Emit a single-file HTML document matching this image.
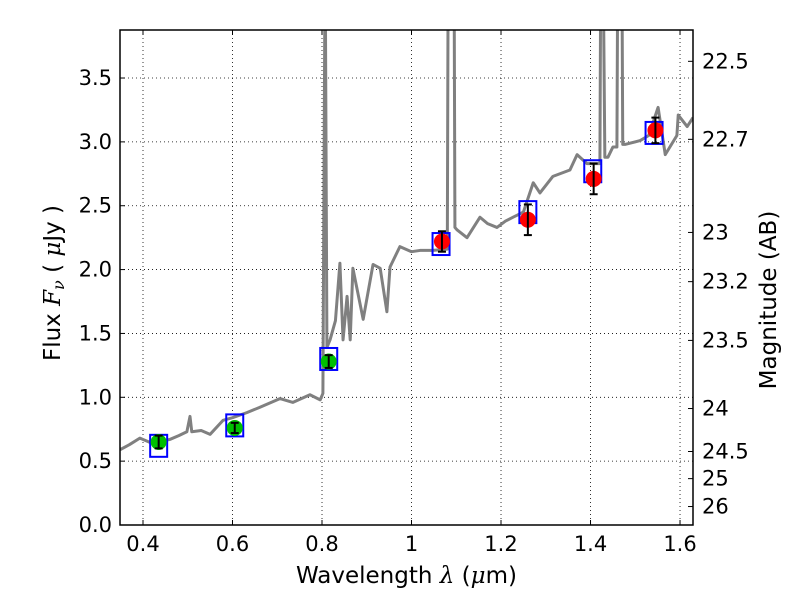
<!DOCTYPE html>
<html><head><meta charset="utf-8">
<style>
body{margin:0;background:#fff;}
svg{display:block;font-family:"DejaVu Sans","Liberation Sans",sans-serif;}
</style></head>
<body>
<svg id="c" width="800" height="600"></svg>
<script>
const specLam=[0.349,0.370,0.393,0.420,0.460,0.480,0.498,0.505,0.509,0.530,0.550,0.579,0.600,0.632,0.660,0.706,0.735,0.773,0.796,0.802,0.807,0.811,0.818,0.830,0.840,0.847,0.856,0.863,0.869,0.892,0.914,0.930,0.945,0.952,0.974,1.000,1.019,1.048,1.080,1.082,1.095,1.097,1.102,1.124,1.153,1.170,1.191,1.210,1.227,1.250,1.272,1.287,1.316,1.354,1.370,1.392,1.421,1.423,1.428,1.432,1.439,1.450,1.459,1.461,1.470,1.472,1.477,1.511,1.530,1.551,1.567,1.593,1.596,1.616,1.629];
const specFlux=[0.59,0.63,0.68,0.64,0.67,0.70,0.73,0.85,0.73,0.74,0.71,0.82,0.84,0.88,0.92,0.99,0.96,1.02,0.98,1.03,4.5,1.39,1.45,1.60,2.05,1.45,1.79,1.45,2.01,1.61,2.04,2.01,1.67,2.02,2.18,2.14,2.15,2.15,2.16,4.5,4.5,2.33,2.31,2.25,2.41,2.36,2.33,2.38,2.41,2.45,2.68,2.60,2.73,2.78,2.90,2.83,2.83,4.5,4.5,2.88,2.88,2.96,2.96,4.5,4.5,2.98,2.98,3.01,3.05,3.27,2.90,3.05,3.21,3.12,3.19];
const optLam=[0.435,0.605,0.815];
const optFlux=[0.65,0.76,1.28];
const optErr=[0.05,0.04,0.05];
const nirLam=[1.068,1.26,1.407,1.545];
const nirFlux=[2.22,2.39,2.71,3.09];
const nirErr=[0.08,0.12,0.12,0.10];
const modLam=[0.435,0.605,0.815,1.066,1.26,1.405,1.542];
const modFlux=[0.62,0.78,1.30,2.20,2.45,2.77,3.07];
const xTicks=[0.4,0.6,0.8,1.0,1.2,1.4,1.6];
const xTickLabels=["0.4","0.6","0.8","1","1.2","1.4","1.6"];
const yTicks=[0,0.5,1,1.5,2,2.5,3,3.5];
const yTickLabels=["0.0","0.5","1.0","1.5","2.0","2.5","3.0","3.5"];
const magTicks=[22.5,22.7,23,23.2,23.5,24,24.5,25,26];
const magLabels=["22.5","22.7","23","23.2","23.5","24","24.5","25","26"];

const L=120,R=693,T=30,B=525,x0=0.3486,x1=1.629,y0=0,y1=3.876;
const X=v=>L+(v-x0)/(x1-x0)*(R-L);
const Y=v=>B-(v-y0)/(y1-y0)*(B-T);
const NS="http://www.w3.org/2000/svg";
const svg=document.getElementById('c');
function mk(t,a,p){const e=document.createElementNS(NS,t);for(const k in a)e.setAttribute(k,a[k]);(p||svg).appendChild(e);return e;}
const defs=mk('defs',{});const cp=mk('clipPath',{id:'pc'},defs);mk('rect',{x:L,y:T,width:R-L,height:B-T},cp);
const FS=21;
xTicks.forEach((v,i)=>{const x=X(v);
 const g=mk('line',{x1:x,x2:x,y1:T,y2:B,stroke:'#000','stroke-width':0.8,'stroke-dasharray':'1,3'});
 
 mk('line',{x1:x,x2:x,y1:B,y2:B-5,stroke:'#000'});mk('line',{x1:x,x2:x,y1:T,y2:T+5,stroke:'#000'});
 const t=mk('text',{x:x,y:B+26,'text-anchor':'middle','font-size':FS});t.textContent=xTickLabels[i];
 });
yTicks.forEach((v,i)=>{const y=Y(v);
 const g=mk('line',{x1:L,x2:R,y1:y,y2:y,stroke:'#000','stroke-width':0.8,'stroke-dasharray':'1,3'});
 
 mk('line',{x1:L,x2:L+5,y1:y,y2:y,stroke:'#000'});
 const t=mk('text',{x:L-8,y:y+7,'text-anchor':'end','font-size':FS});t.textContent=yTickLabels[i];
 });
magTicks.forEach((m,i)=>{const y=Y(Math.pow(10,(23.9-m)/2.5));
 mk('line',{x1:R,x2:R-5,y1:y,y2:y,stroke:'#000'});
 const t=mk('text',{x:R+9,y:y+7,'font-size':FS});t.textContent=magLabels[i];
 });

const pg=mk('g',{'clip-path':'url(#pc)'});
const sp=mk('polyline',{points:specLam.map((l,i)=>X(l)+','+Y(specFlux[i])).join(' '),fill:'none',stroke:'#808080','stroke-width':3,'stroke-linejoin':'round'},pg);

modLam.forEach((l,i)=>{const r=mk('rect',{x:X(l)-8.5,y:Y(modFlux[i])-11,width:17,height:22,fill:'none',stroke:'#0000ff','stroke-width':2},pg);
 });
function pts(lams,fl,er,col,name){lams.forEach((l,i)=>{const x=X(l),y=Y(fl[i]);
 const c=mk('circle',{cx:x,cy:y,r:8,fill:col},pg);
 
 const ya=Y(fl[i]+er[i]),yb=Y(fl[i]-er[i]);
 mk('line',{x1:x,x2:x,y1:ya,y2:yb,stroke:'#000','stroke-width':2},pg);
 mk('line',{x1:x-4,x2:x+4,y1:ya,y2:ya,stroke:'#000','stroke-width':2},pg);
 mk('line',{x1:x-4,x2:x+4,y1:yb,y2:yb,stroke:'#000','stroke-width':2},pg);});}
pts(optLam,optFlux,optErr,'#00c000','optical-flux-point');
pts(nirLam,nirFlux,nirErr,'#ff0000','nir-flux-point');

const fr=mk('rect',{x:L,y:T,width:R-L,height:B-T,fill:'none',stroke:'#000','stroke-width':1.5});


const xl=mk('text',{x:(L+R)/2,y:583,'text-anchor':'middle','font-size':23,'xml:space':'preserve'});
xl.innerHTML='Wavelength  <tspan font-style="italic" font-family="DejaVu Serif,serif">λ</tspan> (<tspan font-style="italic" font-family="DejaVu Serif,serif">μ</tspan>m)';

const yl=mk('text',{x:0,y:0,'text-anchor':'middle','font-size':23,'xml:space':'preserve',transform:'translate(60,283) rotate(-90)'});
yl.innerHTML='Flux  <tspan font-style="italic" font-family="DejaVu Serif,serif">F<tspan font-size="16" dy="4">ν</tspan></tspan><tspan dy="-4">  ( </tspan><tspan font-style="italic" font-family="DejaVu Serif,serif">μ</tspan>Jy )';

const yr=mk('text',{x:0,y:0,'text-anchor':'middle','font-size':23,transform:'translate(776,300) rotate(-90)'});
yr.textContent='Magnitude (AB)';

</script>
</body></html>
